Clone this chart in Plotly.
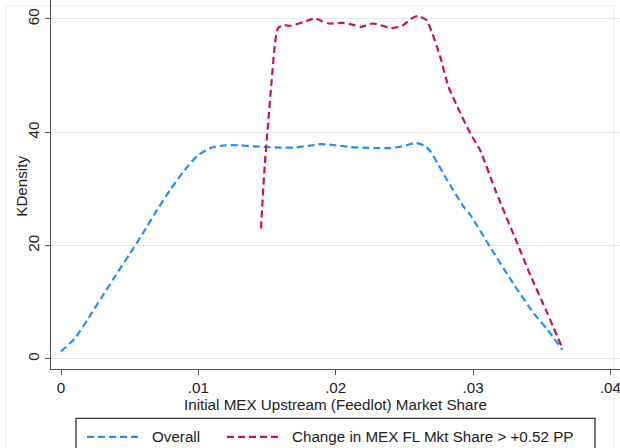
import plotly.graph_objects as go

# Kernel density estimates of initial MEX upstream (feedlot) market share
overall_x = [0.0, 0.001, 0.002, 0.003, 0.004, 0.005, 0.006, 0.007, 0.008, 0.009,
             0.010, 0.011, 0.012, 0.013, 0.014, 0.015, 0.016, 0.017, 0.018, 0.019,
             0.020, 0.021, 0.022, 0.023, 0.024, 0.025, 0.0258, 0.0265, 0.0269,
             0.0275, 0.0281, 0.0293, 0.0298, 0.0312, 0.0329, 0.0344, 0.0354, 0.0365]
overall_y = [1.3, 3.6, 7.2, 11.0, 14.8, 18.5, 22.3, 26.3, 30.0, 33.3,
             36.0, 37.3, 37.7, 37.7, 37.5, 37.4, 37.3, 37.3, 37.6, 37.9,
             37.7, 37.4, 37.3, 37.2, 37.2, 37.6, 38.1, 37.6, 36.6,
             34.2, 31.6, 26.9, 25.4, 19.9, 13.4, 8.1, 5.2, 1.6]

change_x = [0.01456, 0.0148, 0.0151, 0.01534, 0.01558, 0.0158, 0.0162, 0.0167,
            0.0177, 0.0185, 0.0190, 0.0195, 0.0206, 0.0212, 0.0218, 0.0227,
            0.0234, 0.0241, 0.0249, 0.0256, 0.0260, 0.0266, 0.0276, 0.0282,
            0.0288, 0.0298, 0.0305, 0.0317, 0.0332, 0.0342, 0.0354, 0.0365]
change_y = [23.0, 33.0, 42.2, 49.2, 55.7, 58.4, 58.9, 58.8,
            59.5, 60.1, 59.6, 59.2, 59.3, 59.0, 58.6, 59.2,
            58.8, 58.4, 58.9, 60.2, 60.5, 59.8, 53.4, 48.1,
            44.8, 39.8, 36.9, 29.3, 20.5, 14.6, 8.1, 1.9]

series_names = ["Overall", "Change in MEX FL Mkt Share > +0.52 PP"]
series_colors = ["#1e8fff", "#cc1443"]

x_ticks = [0, 0.01, 0.02, 0.03, 0.04]
x_tick_labels = ["0", ".01", ".02", ".03", ".04"]
y_ticks = [0, 20, 40, 60]

FONT = "Liberation Sans, Arial, sans-serif"
FS = 15.2
TEXT = "#222222"
W, H = 620, 448
L, B = 51, 78.5
PLOT_H = H - B  # plot area runs from the top edge down to the x axis


def px(x):
    return (x - L) / (W - L)


def py(y):
    return (PLOT_H - y) / PLOT_H


fig = go.Figure()
for xs, ys, name, color in [(overall_x, overall_y, series_names[0], series_colors[0]),
                            (change_x, change_y, series_names[1], series_colors[1])]:
    fig.add_trace(go.Scatter(
        x=xs, y=ys, name=name, mode="lines", showlegend=False,
        line=dict(color=color, width=2.2, dash="7px,4px", shape="spline", smoothing=0.6),
    ))

shapes = [
    # faint outer frame of the graph region
    dict(type="rect", xref="paper", yref="paper", x0=px(6), x1=px(614), y0=py(6), y1=py(470),
         line=dict(color="#ececec", width=1), fillcolor="rgba(0,0,0,0)", layer="below"),
    # legend box
    dict(type="rect", xref="paper", yref="paper", x0=px(76), x1=px(595), y0=py(419), y1=py(460),
         line=dict(color="#333333", width=1.3), fillcolor="white"),
]
annotations = [
    # y-axis title
    dict(xref="paper", yref="paper", x=px(22), y=py(187), text="KDensity", textangle=-90,
         showarrow=False, xanchor="center", yanchor="middle",
         font=dict(family=FONT, size=FS, color=TEXT)),
]
legend_items = [(87, 141, 150), (227, 280, 290)]
for (s0, s1, tx), name, color in zip(legend_items, series_names, series_colors):
    shapes.append(dict(type="line", xref="paper", yref="paper", x0=px(s0), x1=px(s1),
                       y0=py(437.5), y1=py(437.5),
                       line=dict(color=color, width=2.2, dash="7px,4px")))
    annotations.append(dict(xref="paper", yref="paper", x=px(tx), y=py(437.5), text=name,
                            showarrow=False, xanchor="left", yanchor="middle",
                            font=dict(family=FONT, size=FS, color=TEXT)))

fig.update_layout(
    width=W, height=H,
    margin=dict(l=L, r=0, t=0, b=B, autoexpand=False),
    paper_bgcolor="white", plot_bgcolor="white",
    font=dict(family=FONT, size=FS, color=TEXT),
    shapes=shapes, annotations=annotations,
    xaxis=dict(
        range=[-0.000728, 0.0407], tickvals=x_ticks, ticktext=x_tick_labels,
        ticklabeloverflow="allow",
        showgrid=False, zeroline=False, showline=True, linecolor="#555555", linewidth=1.3,
        ticks="outside", ticklen=5, tickcolor="#555555", tickwidth=1.3,
        title=dict(text="Initial MEX Upstream (Feedlot) Market Share", standoff=1,
                   font=dict(size=FS)),
        automargin=False,
    ),
    yaxis=dict(
        range=[-1.8, 63.35], tickvals=y_ticks, tickangle=-90,
        showgrid=True, gridcolor="#e6e6e6", gridwidth=1, zeroline=False,
        showline=True, linecolor="#555555", linewidth=1.3,
        ticks="outside", ticklen=5, tickcolor="#555555", tickwidth=1.3,
        automargin=False,
    ),
)

fig.write_html("out.html")
